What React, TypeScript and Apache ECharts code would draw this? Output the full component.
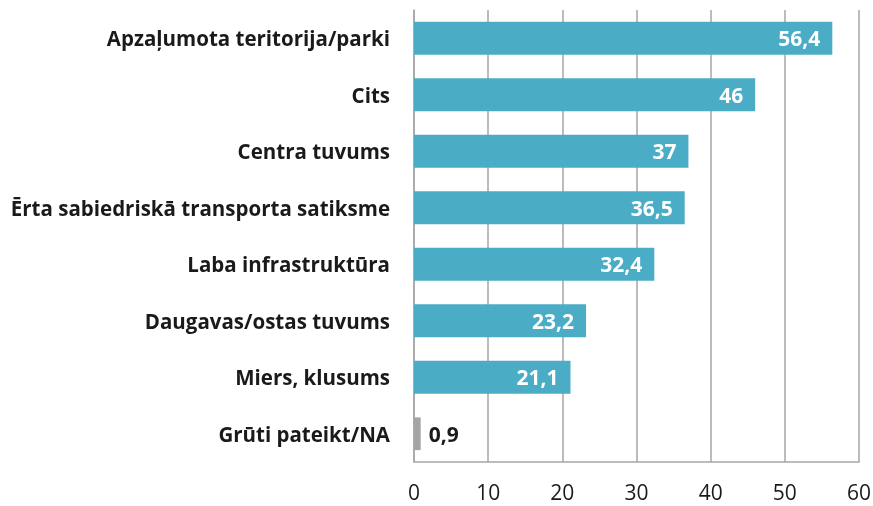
import React, { useEffect, useRef } from "react";
import * as echarts from "echarts";

const categories = [
  "Apzaļumota teritorija/parki",
  "Cits",
  "Centra tuvums",
  "Ērta sabiedriskā transporta satiksme",
  "Laba infrastruktūra",
  "Daugavas/ostas tuvums",
  "Miers, klusums",
  "Grūti pateikt/NA",
];
const values = [56.4, 46, 37, 36.5, 32.4, 23.2, 21.1, 0.9];
const xTicks = [0, 10, 20, 30, 40, 50, 60];

const FONT = "'Open Sans', sans-serif";

export default function App() {
  const ref = useRef<HTMLDivElement>(null);
  useEffect(() => {
    if (!ref.current) return;
    const chart = echarts.init(ref.current, null, { renderer: "svg" });
    const n = categories.length;
    const data = values.map((v, i) => {
      const last = i === n - 1;
      return {
        value: v,
        itemStyle: { color: last ? "#A5A5A5" : "#4BACC6" },
        label: last
          ? { position: "right", color: "#1a1a1a", distance: 8 }
          : { position: "insideRight", color: "#ffffff", distance: 12 },
      };
    });
    chart.setOption({
      animation: false,
      grid: {
        left: 414,
        right: 14,
        top: 10,
        bottom: 44,
        containLabel: false,
        outerBoundsMode: "none",
      },
      xAxis: {
        type: "value",
        min: xTicks[0],
        max: xTicks[xTicks.length - 1],
        interval: 10,
        axisLine: { show: true, lineStyle: { color: "#A6A6A6", width: 1.5 } },
        axisTick: { show: false },
        splitLine: { show: true, lineStyle: { color: "#A6A6A6", width: 1.5 } },
        axisLabel: {
          fontFamily: FONT,
          fontSize: 21,
          color: "#1a1a1a",
          margin: 19,
        },
      },
      yAxis: {
        type: "category",
        data: categories,
        inverse: true,
        axisLine: { show: true, lineStyle: { color: "#A6A6A6", width: 1.5 } },
        axisTick: { show: false },
        axisLabel: {
          fontFamily: FONT,
          fontSize: 20.5,
          fontWeight: "bold",
          color: "#1a1a1a",
          margin: 24,
        },
      },
      series: [
        {
          type: "bar",
          data,
          barWidth: "58%",
          label: {
            show: true,
            fontFamily: FONT,
            fontSize: 21,
            fontWeight: "bold",
            formatter: (p: any) => String(p.value).replace(".", ","),
          },
        },
      ],
    });
    return () => chart.dispose();
  }, []);
  return (
    <div
      ref={ref}
      style={{ position: "fixed", left: 0, top: 0, width: 873, height: 506 }}
    />
  );
}
